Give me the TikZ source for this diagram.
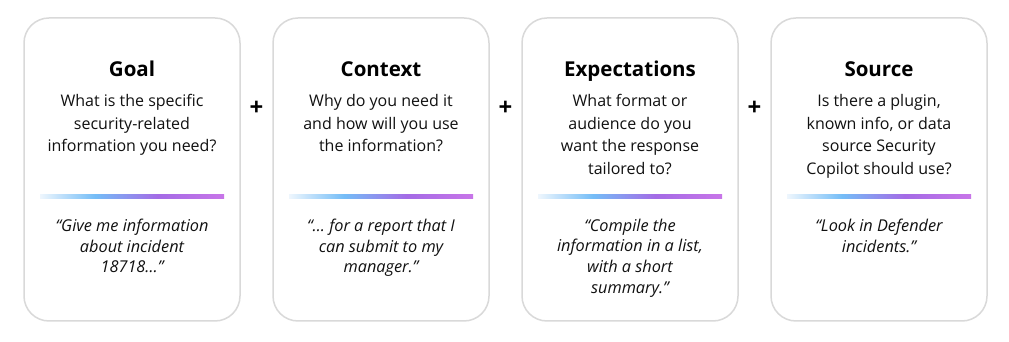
\documentclass[tikz,border=0pt]{standalone}
\usepackage{fontspec}
\setmainfont{Open Sans}
\usetikzlibrary{positioning, calc}
\definecolor{Ink}{HTML}{111111}
\definecolor{Edge}{HTML}{D9D9D9}
\definecolor{BarA}{HTML}{EEF6FD}
\definecolor{BarB}{HTML}{74BDF7}
\definecolor{BarC}{HTML}{A46BE6}
\definecolor{BarD}{HTML}{C875E8}
\pgfdeclarehorizontalshading{barshade}{100bp}{color(0bp)=(BarA); color(25bp)=(BarA); color(40bp)=(BarB); color(57bp)=(BarC); color(75bp)=(BarD); color(100bp)=(BarD)}
\tikzset{
    card/.style={rectangle, rounded corners=25pt, draw=Edge, line width=1.5pt, fill=white, minimum width=216pt, minimum height=303pt},
    title/.style={inner sep=0pt, text height=16pt, text depth=5pt, font=\fontsize{20.5}{24}\selectfont\bfseries, text=black},
    question/.style={inner sep=0pt, align=center, text=Ink, font=\fontsize{16}{22.7}\selectfont},
    quote/.style={inner sep=0pt, align=center, text=Ink, font=\fontsize{16.3}{20.7}\selectfont\itshape},
    bar/.style={rectangle, inner sep=0pt, minimum width=184pt, minimum height=4pt, shading=barshade},
    plus/.style={inner sep=0pt, font=\fontsize{24}{26}\selectfont\bfseries},
}
\begin{document}
\begin{tikzpicture}[x=1pt, y=1pt]
    \fill[white] (0,0) rectangle (1009,342);
    \useasboundingbox (0,0) rectangle (1009,342);

    % Cards
    \node[card] (goal) at (132,172.5) {};
    \node[card] (context) at (381,172.5) {};
    \node[card] (expect) at (630,172.5) {};
    \node[card] (source) at (879,172.5) {};

    % Goal
    \node[title, below=43pt of goal.north] (goalT) {Goal};
    \node[question, below=12.5pt of goalT] (goalQ) {What is the specific\\security-related\\information you need?};
    \node[bar, below=177pt of goal.north] (goalB) {};
    \node[quote, below=20pt of goalB] (goalX) {“Give me information\\about incident\\18718…”};

    % Context
    \node[title, below=43pt of context.north] (contextT) {Context};
    \node[question, below=12.5pt of contextT] (contextQ) {Why do you need it\\and how will you use\\the information?};
    \node[bar, below=177pt of context.north] (contextB) {};
    \node[quote, below=20pt of contextB] (contextX) {“… for a report that I\\can submit to my\\manager.”};

    % Expectations
    \node[title, below=43pt of expect.north] (expectT) {Expectations};
    \node[question, below=12.5pt of expectT] (expectQ) {What format or\\audience do you\\want the response\\tailored to?};
    \node[bar, below=177pt of expect.north] (expectB) {};
    \node[quote, below=20pt of expectB] (expectX) {“Compile the\\information in a list,\\with a short\\summary.”};

    % Source
    \node[title, below=43pt of source.north] (sourceT) {Source};
    \node[question, below=12.5pt of sourceT] (sourceQ) {Is there a plugin,\\known info, or data\\source Security\\Copilot should use?};
    \node[bar, below=177pt of source.north] (sourceB) {};
    \node[quote, below=20pt of sourceB] (sourceX) {“Look in Defender\\incidents.”};

    % Plus signs
    \node[plus] (plus1) at ($(goal.east)!0.5!(context.west)+(0,61)$) {+};
    \node[plus] (plus2) at ($(context.east)!0.5!(expect.west)+(0,61)$) {+};
    \node[plus] (plus3) at ($(expect.east)!0.5!(source.west)+(0,61)$) {+};
\end{tikzpicture}
\end{document}
